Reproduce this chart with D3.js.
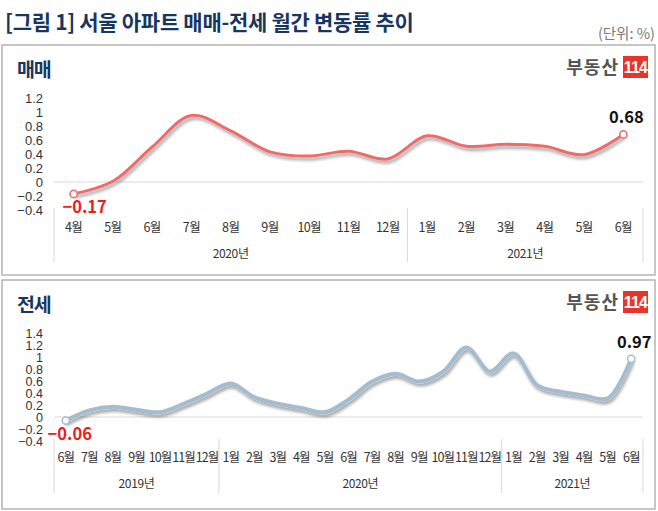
<!DOCTYPE html>
<html><head><meta charset="utf-8">
<script src="https://cdn.jsdelivr.net/npm/d3@7"></script>
<style>body{margin:0;background:#fff}svg{display:block}</style>
</head><body>
<svg id="c" width="658" height="511"></svg>
<script>
// ---- data ----
const salesYears = ["2020년", "2021년"];
const salesYearMonths = [[4,5,6,7,8,9,10,11,12],[1,2,3,4,5,6]];
const salesValues = [-0.17,0.01,0.50,0.95,0.73,0.43,0.37,0.44,0.33,0.66,0.51,0.54,0.51,0.39,0.68];
const salesTicks = [-0.4,-0.2,0,0.2,0.4,0.6,0.8,1,1.2];

const jeonseYears = ["2019년", "2020년", "2021년"];
const jeonseYearMonths = [[6,7,8,9,10,11,12],[1,2,3,4,5,6,7,8,9,10,11,12],[1,2,3,4,5,6]];
const jeonseValues = [-0.06,0.11,0.17,0.12,0.08,0.22,0.39,
  0.56,0.33,0.22,0.15,0.08,0.29,0.59,0.72,0.59,0.75,1.16,0.76,
  1.06,0.53,0.42,0.36,0.31,0.97];
const jeonseTicks = [-0.4,-0.2,0,0.2,0.4,0.6,0.8,1,1.2,1.4];

const titleText = "[그림 1] 서울 아파트 매매-전세 월간 변동률 추이";
const unitText = "(단위: %)";

// ---- drawing ----
const svg = d3.select("#c");
const KR = "'Noto Sans CJK KR','Noto Sans',sans-serif";
const NUM = "'Liberation Sans Narrow','Liberation Sans',Arial,sans-serif";

const defs = svg.append("defs");
const f = defs.append("filter").attr("id","sh").attr("x","-10%").attr("y","-30%").attr("width","120%").attr("height","160%");
f.append("feDropShadow").attr("dx",1.5).attr("dy",3).attr("stdDeviation",1.6)
  .attr("flood-color","#000").attr("flood-opacity",0.35);

svg.append("text").attr("x",5).attr("y",30).text(titleText)
  .attr("font-family",KR).attr("font-weight",700).attr("font-size",21)
  .attr("fill","#17365f").attr("letter-spacing",-0.3);
svg.append("text").attr("x",655).attr("y",39).attr("text-anchor","end").text(unitText)
  .attr("font-family",KR).attr("font-size",14.5).attr("fill","#7a7a7a");

function panel(o){
  const g = svg.append("g");
  g.append("rect").attr("x",2).attr("y",o.top).attr("width",653).attr("height",o.h)
    .attr("fill","#fff").attr("stroke","#b4b4b4").attr("stroke-width",1.5);
  g.append("text").attr("x",17).attr("y",o.top+32).text(o.name)
    .attr("font-family",KR).attr("font-weight",700).attr("font-size",19.5)
    .attr("fill","#17365f").attr("letter-spacing",-1.2);
  // logo
  g.append("text").attr("x",619).attr("y",o.top+29).attr("text-anchor","end").text("부동산")
    .attr("font-family",KR).attr("font-weight",700).attr("font-size",18)
    .attr("fill","#555").attr("letter-spacing",1);
  g.append("rect").attr("x",623).attr("y",o.top+11).attr("width",25).attr("height",22).attr("fill","#e8352a");
  g.append("text").attr("x",635.5).attr("y",o.top+28).attr("text-anchor","middle").text("114")
    .attr("font-family",NUM).attr("font-weight",700).attr("font-size",16).attr("fill","#fff")
    .attr("letter-spacing",-0.8);

  const keys = [];
  o.yearMonths.forEach((ms,i)=>ms.forEach(m=>keys.push(o.years[i]+"-"+m)));
  const x = d3.scaleBand().domain(keys).range([54,643]);
  const y = d3.scaleLinear().domain(o.domain).range(o.yrange);
  const cx = k => x(k) + x.bandwidth()/2;

  // y tick labels
  g.selectAll(".yt").data(o.ticks).join("text")
    .attr("x",43).attr("y",d=>y(d)).attr("dy","0.36em").attr("text-anchor","end")
    .text(d=>d3.format("")(+d.toFixed(1)))
    .attr("font-family",NUM).attr("font-size",o.tickFs).attr("fill","#333");
  // zero line
  g.append("line").attr("x1",54).attr("x2",643).attr("y1",y(0)).attr("y2",y(0))
    .attr("stroke","#d9d9d9").attr("stroke-width",1);

  // month labels
  g.selectAll(".mt").data(keys).join("text")
    .attr("x",d=>cx(d)).attr("y",o.monthY).attr("text-anchor","middle")
    .text(d=>d.split("-")[1]+"월")
    .attr("font-family",KR).attr("font-size",o.monthFs).attr("fill","#333")
    .attr("letter-spacing",o.monthLs);
  // year groups
  let idx = 0;
  const bounds = [54];
  o.yearMonths.forEach((ms,i)=>{
    const first = keys[idx], last = keys[idx+ms.length-1];
    const x0 = x(first), x1 = x(last)+x.bandwidth();
    g.append("text").attr("x",(x0+x1)/2).attr("y",o.yearY).attr("text-anchor","middle")
      .text(o.years[i]).attr("font-family",KR).attr("font-size",12).attr("fill","#333")
      .attr("letter-spacing",-0.4);
    bounds.push(x1);
    idx += ms.length;
  });
  bounds.forEach(b=>{
    g.append("line").attr("x1",b).attr("x2",b).attr("y1",o.sepY[0]).attr("y2",o.sepY[1])
      .attr("stroke","#d9d9d9").attr("stroke-width",1);
  });

  // line
  const pts = keys.map((k,i)=>[cx(k), y(o.values[i])]);
  g.append("path").attr("d", d3.line().curve(d3.curveCatmullRom.alpha(0.5))(pts))
    .attr("fill","none").attr("stroke",o.color).attr("stroke-width",o.lw)
    .attr("stroke-linecap","round").attr("filter","url(#sh)");
  [0, pts.length-1].forEach(i=>{
    g.append("circle").attr("cx",pts[i][0]).attr("cy",pts[i][1]).attr("r",3.6)
      .attr("fill","#fff").attr("stroke",o.color).attr("stroke-width",1.5);
  });
  const first = pts[0], last = pts[pts.length-1];
  g.append("text").attr("x",first[0]+o.firstDx).attr("y",first[1]+o.firstDy).attr("text-anchor","middle")
    .text(d3.format(".2f")(o.values[0])).attr("font-family",KR).attr("font-weight",700)
    .attr("font-size",16.5).attr("fill","#ee1c1c");
  g.append("text").attr("x",last[0]+3).attr("y",last[1]-11).attr("text-anchor","middle")
    .text(d3.format(".2f")(o.values[o.values.length-1])).attr("font-family",KR).attr("font-weight",700)
    .attr("font-size",16.5).attr("fill","#111");
}

panel({top:45,h:230,name:"매매",years:salesYears,yearMonths:salesYearMonths,values:salesValues,
  ticks:salesTicks,domain:[-0.4,1.2],yrange:[210,98],monthY:232,yearY:258,sepY:[208,262],
  tickFs:13,monthFs:12.5,monthLs:-0.6,color:"#ef6b69",lw:3,firstDx:11,firstDy:19});
panel({top:280,h:229,name:"전세",years:jeonseYears,yearMonths:jeonseYearMonths,values:jeonseValues,
  ticks:jeonseTicks,domain:[-0.4,1.4],yrange:[441,333],monthY:462,yearY:488,sepY:[439,493],
  tickFs:12.5,monthFs:12.5,monthLs:-0.9,color:"#a4bccf",lw:4,firstDx:4,firstDy:19});
</script>
</body></html>
